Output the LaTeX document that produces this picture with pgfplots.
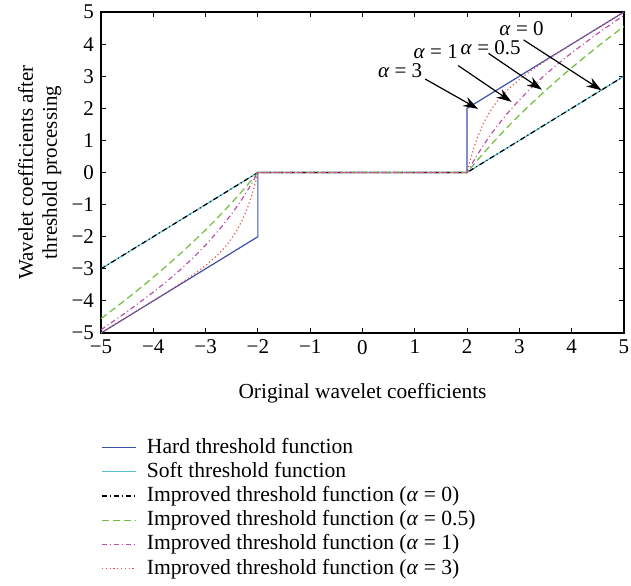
\documentclass[border=0pt]{standalone}
\usepackage{fontspec}
\setmainfont{Liberation Serif}
\usepackage{pgfplots}
\pgfplotsset{compat=1.18}
\usetikzlibrary{arrows.meta}

\definecolor{hardc}{RGB}{60,80,170}
\definecolor{softc}{RGB}{90,190,210}
\definecolor{halfc}{RGB}{110,190,60}
\definecolor{onec}{RGB}{190,80,170}
\definecolor{threec}{RGB}{240,80,80}

\begin{document}
\begin{tikzpicture}[font=\fontsize{10.5pt}{12pt}\selectfont]
\begin{axis}[
    scale only axis, width=261.5pt, height=160.5pt,
    xmin=-5, xmax=5, ymin=-5, ymax=5,
    xtick={-5,...,5}, ytick={-5,...,5},
    xticklabels={−5,−4,−3,−2,−1,0,1,2,3,4,5},
    yticklabels={−5,−4,−3,−2,−1,0,1,2,3,4,5},
    tick align=inside, major tick length=2.5pt,
    tick style={black, line width=0.5pt},
    axis line style={line width=0.6pt},
    ticklabel style={font=\fontsize{10.5pt}{12pt}\selectfont},
    xlabel={Original wavelet coefficients},
    xlabel style={at={(axis description cs:0.5,0)}, anchor=center, yshift=-30pt,
        font=\fontsize{10.7pt}{12pt}\selectfont},
    ylabel={Wavelet coefficients after\\threshold processing},
    ylabel style={at={(axis description cs:-0.117,0.5)}, anchor=center, align=center,
        font=\fontsize{10.5pt}{12pt}\selectfont},
    legend style={at={(axis description cs:0,-0.318)}, anchor=north west,
        draw=none, inner sep=0pt, font=\fontsize{10.8pt}{12pt}\selectfont,
        nodes={inner sep=0.8pt, text height=8pt, text depth=2.5pt},
        /tikz/every odd column/.append style={column sep=4.3pt}},
    legend cell align=left,
    every axis plot/.append style={line width=0.6pt},
]
\addplot[hardc] coordinates {(-5,-5) (-2,-2) (-2,0) (2,0) (2,2) (5,5)};
\addlegendentry{Hard threshold function}
\addplot[softc] coordinates {(-5,-3) (-2,0) (2,0) (5,3)};
\addlegendentry{Soft threshold function}
\addplot[black, dash pattern=on 2.5pt off 1.5pt on 0.5pt off 1.5pt] coordinates {(-5,-3) (-2,0) (2,0) (5,3)};
\addlegendentry{Improved threshold function (\textit{α} = 0)}
\addplot[halfc, dash pattern=on 3.5pt off 2pt] coordinates {
(-5,-4.554) (-4.75,-4.244) (-4.5,-3.927) (-4.25,-3.601) (-4,-3.264) (-3.75,-2.916)
(-3.5,-2.555) (-3.25,-2.179) (-3,-1.787) (-2.75,-1.375) (-2.5,-0.942) (-2.25,-0.485)
(-2,0) (2,0)
(2.25,0.485) (2.5,0.942) (2.75,1.375) (3,1.787) (3.25,2.179) (3.5,2.555)
(3.75,2.916) (4,3.264) (4.25,3.601) (4.5,3.927) (4.75,4.244) (5,4.554)};
\addlegendentry{Improved threshold function (\textit{α} = 0.5)}
\addplot[onec, dash pattern=on 2.5pt off 1.5pt on 0.5pt off 1.5pt] coordinates {
(-5,-4.900) (-4.5,-4.336) (-4,-3.729) (-3.75,-3.403) (-3.5,-3.054) (-3.25,-2.677)
(-3,-2.264) (-2.75,-1.805) (-2.5,-1.287) (-2.4,-1.059) (-2.3,-0.818) (-2.2,-0.562)
(-2.1,-0.290) (-2,0) (2,0)
(2.1,0.290) (2.2,0.562) (2.3,0.818) (2.4,1.059) (2.5,1.287) (2.75,1.805) (3,2.264)
(3.25,2.677) (3.5,3.054) (3.75,3.403) (4,3.729) (4.5,4.336) (5,4.900)};
\addlegendentry{Improved threshold function (\textit{α} = 1)}
\addplot[threec, dash pattern=on 0.6pt off 1.3pt] coordinates {
(-5,-5.000) (-4,-3.995) (-3.5,-3.478) (-3.25,-3.203) (-3,-2.900) (-2.75,-2.539)
(-2.6,-2.269) (-2.5,-2.054) (-2.4,-1.798) (-2.3,-1.487) (-2.2,-1.102) (-2.15,-0.875)
(-2.1,-0.618) (-2.05,-0.329) (-2.02,-0.136) (-2,0) (2,0)
(2.02,0.136) (2.05,0.329) (2.1,0.618) (2.15,0.875) (2.2,1.102) (2.3,1.487) (2.4,1.798)
(2.5,2.054) (2.6,2.269) (2.75,2.539) (3,2.900) (3.25,3.203) (3.5,3.478) (4,3.995) (5,5.000)};
\addlegendentry{Improved threshold function (\textit{α} = 3)}

\begin{scope}[-{Stealth[length=7.5pt,width=5pt]}, line width=0.6pt, black]
\draw (axis cs:3.08,4.13) -- (axis cs:4.57,2.56);
\draw (axis cs:2.41,3.71) -- (axis cs:3.43,2.58);
\draw (axis cs:1.83,3.33) -- (axis cs:2.85,2.20);
\draw (axis cs:1.20,2.91) -- (axis cs:2.21,1.98);
\end{scope}
\node at (axis cs:3.04,4.49) {\textit{α} = 0};
\node at (axis cs:2.45,3.89) {\textit{α} = 0.5};
\node at (axis cs:1.40,3.76) {\textit{α} = 1};
\node at (axis cs:0.72,3.16) {\textit{α} = 3};
\end{axis}
\pgfresetboundingbox
\path[use as bounding box] ([xshift=-50.5pt,yshift=-126.5pt]current axis.south west)
    rectangle ([xshift=3.5pt,yshift=6pt]current axis.north east);
\end{tikzpicture}
\end{document}
